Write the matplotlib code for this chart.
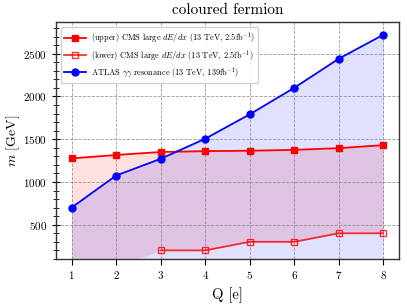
import matplotlib
matplotlib.use("Agg")
import matplotlib.pyplot as plt
from matplotlib.ticker import MultipleLocator

plt.rcParams['font.family'] = 'serif'
plt.rcParams['font.serif'] = ['cmr10']
plt.rcParams['mathtext.fontset'] = 'cm'
plt.rcParams['axes.formatter.use_mathtext'] = True

Q = [1, 2, 3, 4, 5, 6, 7, 8]
cms_upper = [1275, 1315, 1350, 1360, 1365, 1375, 1395, 1430]
Q_lower = [3, 4, 5, 6, 7, 8]
cms_lower = [200, 200, 300, 300, 400, 400]
cms_lower_fill = [0, 0, 200, 200, 300, 300, 400, 400]
atlas = [700, 1075, 1270, 1505, 1790, 2100, 2440, 2720]

labels = [r"(upper) CMS large $dE/dx$ (13 TeV, 2.5fb$^{-1}$)",
          r"(lower) CMS large $dE/dx$ (13 TeV, 2.5fb$^{-1}$)",
          r"ATLAS $\gamma\gamma$ resonance (13 TeV, 139fb$^{-1}$)"]

fig = plt.figure(figsize=(4.07, 3.05), dpi=100)
ax = fig.add_axes([0.1376, 0.151, 0.980 - 0.1376, 0.928 - 0.151])

ax.fill_between(Q, cms_lower_fill, cms_upper, color='red', alpha=0.12, linewidth=0)
ax.fill_between(Q, 0, atlas, color='blue', alpha=0.12, linewidth=0)
ax.plot(Q, cms_upper, color='red', marker='s', markersize=5, linewidth=1.3, label=labels[0])
ax.plot(Q_lower, cms_lower, color='red', marker='s', markersize=5, markerfacecolor='none',
        linewidth=1.3, label=labels[1], alpha=0.8)
ax.plot(Q, atlas, color='blue', marker='o', markersize=5, linewidth=1.3, label=labels[2])

ax.set_xlim(0.65, 8.35)
ax.set_ylim(100, 2870)
ax.set_xticks(Q)
ax.yaxis.set_major_locator(MultipleLocator(500))
ax.yaxis.set_minor_locator(MultipleLocator(100))
ax.set_yticks([500, 1000, 1500, 2000, 2500])
ax.tick_params(axis='y', which='major', direction='inout', length=6, labelsize=8)
ax.tick_params(axis='y', which='minor', direction='inout', length=4)
ax.tick_params(axis='x', which='major', direction='out', length=4, labelsize=8)
ax.grid(True, linestyle='--', color='gray', linewidth=0.6, alpha=0.8)

for s in ax.spines.values():
    s.set_linewidth(1.0)
    s.set_color('#333333')

ax.set_title('coloured fermion', fontsize=11)
ax.set_xlabel('Q [e]', fontsize=10.5)
ax.set_ylabel(r'$m$ [GeV]', fontsize=10, labelpad=1)
ax.legend(loc='upper left', fontsize=6.0, framealpha=0.9, handlelength=2.6,
          labelspacing=0.3, borderaxespad=0.6, handletextpad=0.6)

fig.savefig('out.png', dpi=100)
